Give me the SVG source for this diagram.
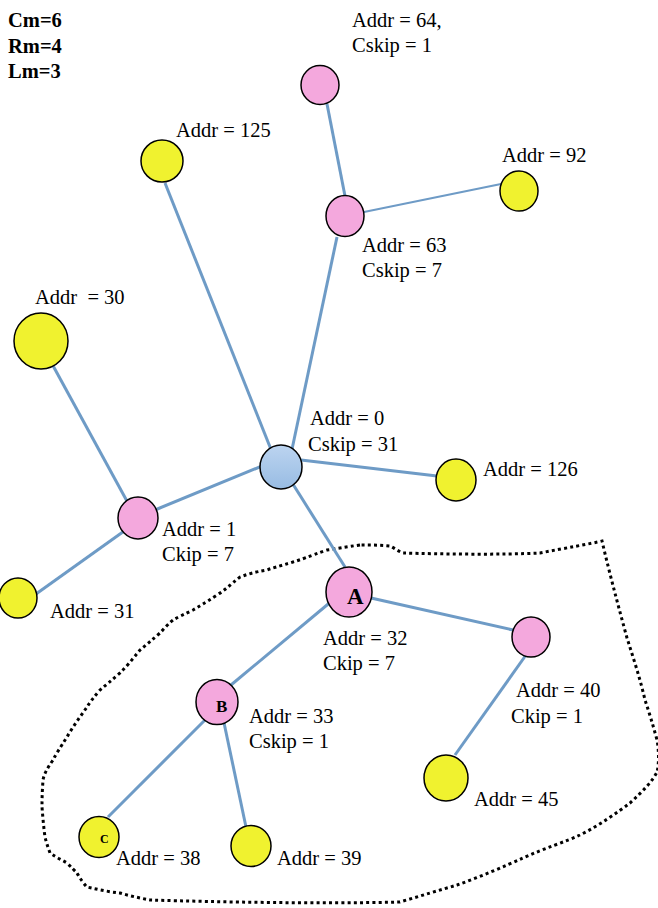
<svg xmlns="http://www.w3.org/2000/svg" width="658" height="908" viewBox="0 0 658 908">
<defs>
<linearGradient id="blueGrad" x1="0" y1="0" x2="0" y2="1">
<stop offset="0" stop-color="#bcd4f0"/>
<stop offset="1" stop-color="#98bce3"/>
</linearGradient>
<style>
.pink{fill:#f4a8dd;stroke:#000;stroke-width:1.5}
.yellow{fill:#f0f22f;stroke:#000;stroke-width:1.5}
.blue{fill:url(#blueGrad);stroke:#000;stroke-width:1.5}
.edge{stroke:#6e9bc6;stroke-width:3;fill:none;stroke-linecap:butt}
.thin{stroke-width:2}
.lbl{font-family:"Liberation Serif","Times New Roman",serif;font-size:20.5px;fill:#000}
.hdr{font-family:"Liberation Serif","Times New Roman",serif;font-size:20.5px;font-weight:bold;fill:#000}
.nl{font-family:"Liberation Serif","Times New Roman",serif;font-weight:bold;fill:#000}
.bound{fill:none;stroke:#000;stroke-width:3;stroke-dasharray:3 3.2}
</style>
</defs>
<rect width="658" height="908" fill="#fff"/>
<g id="header">
<text class="hdr" x="8" y="27">Cm=6</text>
<text class="hdr" x="8" y="53">Rm=4</text>
<text class="hdr" x="8" y="78">Lm=3</text>
</g>
<g id="boundary">
<path class="bound" d="M360,545 C345,547 335,549 327,550 C310,556 300,560 293,562 C280,566 272,568 267,570 C255,572 248,574 240,577 C230,585 225,590 217,595 C205,603 198,607 193,610 C185,614 178,617 173,620 C166,626 163,630 160,633 C152,640 146,645 140,650 C132,660 126,667 120,673 C112,680 106,685 100,690 C94,697 90,702 87,707 C80,717 72,728 67,737 C60,748 56,754 53,760 C46,770 44,775 43,780 C42,795 42,800 42,807 C43,820 44,830 45,837 C47,845 49,850 50,853 C57,858 62,860 67,863 C72,868 75,871 77,873 C81,880 84,884 87,887 C100,890 110,892 120,893 C130,896 140,898 150,900 C220,902 320,904 400,902 C420,896 440,890 457,885 C480,877 505,866 523,858 C545,848 565,842 580,835 C600,825 618,812 630,803 C642,792 652,782 657,772 C659,765 659,750 657,740 C653,725 649,712 645,700 C640,678 633,657 627,638 C618,605 610,575 602,541 C590,544 565,548 540,553 C500,555 440,554 403,553 C398,551 394,548 390,546 C380,545 370,545 360,545"/>
</g>
<g id="connectors">
<line class="edge" x1="165" y1="183" x2="272" y2="452"/>
<line class="edge" x1="337" y1="237" x2="291" y2="454"/>
<line class="edge" x1="327" y1="104" x2="345" y2="196"/>
<line class="edge thin" x1="364" y1="212" x2="501" y2="184"/>
<line class="edge" x1="301" y1="460" x2="437" y2="476"/>
<line class="edge" x1="262" y1="466" x2="155" y2="510"/>
<line class="edge" x1="291" y1="481" x2="345" y2="567"/>
<line class="edge" x1="51" y1="362" x2="128" y2="503"/>
<line class="edge" x1="127" y1="529" x2="36" y2="594"/>
<line class="edge" x1="333" y1="600" x2="231" y2="685"/>
<line class="edge" x1="371" y1="598" x2="513" y2="630"/>
<line class="edge" x1="526" y1="655" x2="455" y2="755"/>
<line class="edge" x1="206" y1="719" x2="108" y2="817"/>
<line class="edge" x1="223" y1="718" x2="246" y2="827"/>
</g>
<g id="node-root">
<ellipse class="blue" cx="281" cy="467" rx="21" ry="22"/>
<text class="lbl" x="310" y="425">Addr = 0</text>
<text class="lbl" x="308" y="451">Cskip = 31</text>
</g>
<g id="node-64">
<ellipse class="pink" cx="320" cy="85" rx="19" ry="19.5"/>
<text class="lbl" x="352" y="27">Addr = 64,</text>
<text class="lbl" x="352" y="52">Cskip = 1</text>
</g>
<g id="node-63">
<ellipse class="pink" cx="345" cy="216" rx="19" ry="20.5"/>
<text class="lbl" x="362" y="252">Addr = 63</text>
<text class="lbl" x="362" y="277">Cskip = 7</text>
</g>
<g id="node-92">
<ellipse class="yellow" cx="519" cy="191" rx="19" ry="20"/>
<text class="lbl" x="502" y="162">Addr = 92</text>
</g>
<g id="node-125">
<ellipse class="yellow" cx="162" cy="161" rx="21" ry="21"/>
<text class="lbl" x="176" y="137">Addr = 125</text>
</g>
<g id="node-30">
<ellipse class="yellow" cx="41" cy="341" rx="27" ry="28"/>
<text class="lbl" x="35" y="304" xml:space="preserve">Addr  = 30</text>
</g>
<g id="node-1">
<ellipse class="pink" cx="138" cy="518" rx="20" ry="21"/>
<text class="lbl" x="162" y="536">Addr = 1</text>
<text class="lbl" x="162" y="561">Ckip = 7</text>
</g>
<g id="node-31">
<ellipse class="yellow" cx="18" cy="598" rx="19" ry="20"/>
<text class="lbl" x="50" y="618">Addr = 31</text>
</g>
<g id="node-126">
<ellipse class="yellow" cx="456" cy="480" rx="20" ry="21"/>
<text class="lbl" x="483" y="476">Addr = 126</text>
</g>
<g id="node-A">
<ellipse class="pink" cx="349" cy="592" rx="23" ry="25"/>
<text class="nl" x="347" y="604" font-size="23">A</text>
<text class="lbl" x="323" y="645">Addr = 32</text>
<text class="lbl" x="323" y="670">Ckip = 7</text>
</g>
<g id="node-40">
<ellipse class="pink" cx="531" cy="637" rx="19" ry="20"/>
<text class="lbl" x="516" y="697">Addr = 40</text>
<text class="lbl" x="511" y="723">Ckip = 1</text>
</g>
<g id="node-B">
<ellipse class="pink" cx="217" cy="702" rx="21" ry="22.5"/>
<text class="nl" x="216" y="712" font-size="17">B</text>
<text class="lbl" x="249" y="723">Addr = 33</text>
<text class="lbl" x="249" y="748">Cskip = 1</text>
</g>
<g id="node-45">
<ellipse class="yellow" cx="446" cy="778" rx="22" ry="23"/>
<text class="lbl" x="474" y="806">Addr = 45</text>
</g>
<g id="node-C">
<ellipse class="yellow" cx="99" cy="837" rx="20" ry="20.5"/>
<text class="nl" x="100" y="843" font-size="12">C</text>
<text class="lbl" x="116" y="865">Addr = 38</text>
</g>
<g id="node-39">
<ellipse class="yellow" cx="251" cy="846" rx="20" ry="20.5"/>
<text class="lbl" x="277" y="865">Addr = 39</text>
</g>
</svg>
